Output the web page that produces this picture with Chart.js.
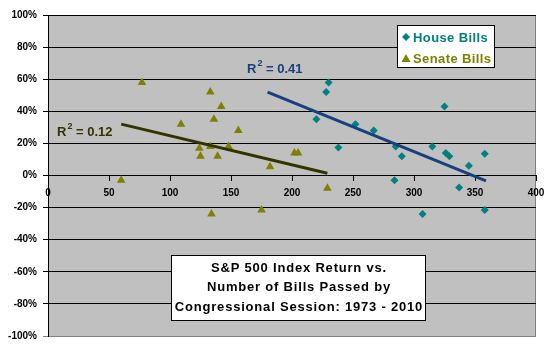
<!DOCTYPE html>
<html>
<head>
<meta charset="utf-8">
<script src="https://cdn.jsdelivr.net/npm/chart.js@4/dist/chart.umd.min.js"></script>
<style>
  html, body { margin: 0; padding: 0; background: #fff; }
  #wrap { width: 550px; height: 350px; position: relative; }
</style>
</head>
<body>
<div id="wrap"><canvas id="billsChart"></canvas></div>
<script>
// Number of bills passed per congressional session vs S&P 500 return (%)
const houseBills   = [230, 228, 220, 238, 252, 267, 285, 290, 284, 315, 325, 326, 329, 345, 358, 337, 307, 358];
const houseReturn  = [58, 52, 35, 17.5, 32, 28, 18, 12, -3, 18, 43, 14, 12, 6, 13.5, -7.5, -24, -21.5];
const senateBills  = [60, 77, 109, 133, 142, 136, 156, 124, 133, 125, 139, 148, 182, 202, 205, 229, 134, 175];
const senateReturn = [-3, 58, 32, 52, 43, 35, 28, 17, 18, 12, 12, 18, 5.5, 14, 14, -8, -24, -21.5];

// trend line end points
const houseTrendX  = [180, 359];
const houseTrendY  = [52, -3.4];
const senateTrendX = [60, 229];
const senateTrendY = [32, 1.4];

const xTicks = [0, 50, 100, 150, 200, 250, 300, 350, 400];
const titleLines = ['S&P 500 Index Return vs.', 'Number of Bills Passed by', 'Congressional Session: 1973 - 2010'];

const TEAL = '#008080';
const OLIVE = '#808000';
const NAVY = '#17407d';
const DARK_OLIVE = '#333300';

function toPoints(xs, ys) {
    return xs.map((x, i) => ({ x: x, y: ys[i] }));
}

// keep the label overhang from shrinking the plot area
function noPadding(scale) {
    scale.paddingLeft = 0;
    scale.paddingRight = 0;
    scale.paddingTop = 0;
    scale.paddingBottom = 0;
}

// grey plot area + frame
const plotBackground = {
    id: 'plotBackground',
    beforeDraw(chart) {
        const { ctx, chartArea: a } = chart;
        ctx.save();
        ctx.fillStyle = '#c0c0c0';
        ctx.fillRect(a.left, a.top, a.right - a.left, a.bottom - a.top);
        ctx.strokeStyle = '#808080';
        ctx.lineWidth = 1;
        ctx.strokeRect(a.left + 0.5, a.top + 0.5, a.right - a.left - 1, a.bottom - a.top);
        ctx.restore();
    }
};

function drawR2(ctx, x, y, value, color) {
    ctx.fillStyle = color;
    ctx.textBaseline = 'middle';
    ctx.textAlign = 'left';
    ctx.font = 'bold 13px Arial';
    ctx.fillText('R', x, y);
    let w = ctx.measureText('R').width;
    ctx.font = 'bold 9px Arial';
    ctx.fillText('2', x + w + 1, y - 5);
    w += ctx.measureText('2').width + 1;
    ctx.font = 'bold 13px Arial';
    ctx.fillText(' = ' + value, x + w, y);
}

// legend box, R² labels and title box inside the plot
const annotations = {
    id: 'annotations',
    afterDraw(chart) {
        const ctx = chart.ctx;
        ctx.save();

        // legend
        ctx.fillStyle = '#fff';
        ctx.fillRect(397, 25, 97, 42);
        ctx.strokeStyle = '#000';
        ctx.lineWidth = 1;
        ctx.strokeRect(397.5, 25.5, 97, 42);
        ctx.font = 'bold 13px Arial';
        ctx.letterSpacing = '0.4px';
        ctx.textBaseline = 'middle';
        ctx.textAlign = 'left';
        const rows = chart.data.datasets.filter(d => d.inLegend);
        rows.forEach((d, i) => {
            const y = 37 + i * 21;
            ctx.fillStyle = d.backgroundColor;
            ctx.beginPath();
            if (d.pointStyle === 'rectRot') {
                ctx.moveTo(406, y - 4); ctx.lineTo(410, y); ctx.lineTo(406, y + 4); ctx.lineTo(402, y);
            } else {
                ctx.moveTo(406, y - 4); ctx.lineTo(410.5, y + 4); ctx.lineTo(401.5, y + 4);
            }
            ctx.closePath();
            ctx.fill();
            ctx.fillText(d.label, 413, y + 1);
        });
        ctx.letterSpacing = '0px';

        drawR2(ctx, 247, 69, '0.41', NAVY);
        drawR2(ctx, 57, 132, '0.12', DARK_OLIVE);

        // title box
        ctx.fillStyle = '#fff';
        ctx.fillRect(171, 255, 254, 65);
        ctx.strokeStyle = '#000';
        ctx.strokeRect(171.5, 255.5, 254, 65);
        ctx.fillStyle = '#000';
        ctx.font = 'bold 13px Arial';
        ctx.letterSpacing = '0.8px';
        ctx.textAlign = 'center';
        titleLines.forEach((t, i) => ctx.fillText(t, 299, 268 + i * 19.5));
        ctx.restore();
    }
};

const ctxBills = document.getElementById('billsChart').getContext('2d');
const billsChart = new Chart(ctxBills, {
    type: 'scatter',
    data: {
        datasets: [
            {
                label: 'House Trend',
                data: toPoints(houseTrendX, houseTrendY),
                showLine: true,
                borderColor: NAVY,
                borderWidth: 3,
                pointRadius: 0
            },
            {
                label: 'Senate Trend',
                data: toPoints(senateTrendX, senateTrendY),
                showLine: true,
                borderColor: DARK_OLIVE,
                borderWidth: 3,
                pointRadius: 0
            },
            {
                label: 'House Bills',
                inLegend: true,
                data: toPoints(houseBills, houseReturn),
                pointStyle: 'rectRot',
                pointRadius: 4,
                backgroundColor: TEAL,
                borderColor: TEAL,
                borderWidth: 0
            },
            {
                label: 'Senate Bills',
                inLegend: true,
                data: toPoints(senateBills, senateReturn),
                pointStyle: 'triangle',
                pointRadius: 5,
                backgroundColor: OLIVE,
                borderColor: OLIVE,
                borderWidth: 0
            }
        ]
    },
    options: {
        responsive: true,
        maintainAspectRatio: false,
        animation: false,
        layout: { padding: { top: 15, right: 14, bottom: 14, left: 0 } },
        scales: {
            x: {
                type: 'linear',
                position: { y: 0 },
                min: 0,
                max: 400,
                afterBuildTicks: (scale) => { scale.ticks = xTicks.map(v => ({ value: v })); },
                afterFit: noPadding,
                grid: { drawOnChartArea: false, drawTicks: true, tickLength: 5, color: '#000' },
                border: { color: '#000', width: 1 },
                ticks: {
                    color: '#000',
                    padding: 7,
                    maxRotation: 0,
                    autoSkip: false,
                    font: { family: 'Arial', size: 10, weight: 'bold' }
                }
            },
            y: {
                min: -100,
                max: 100,
                afterFit: (scale) => { scale.width = 48; noPadding(scale); },
                grid: {
                    drawTicks: true,
                    tickLength: 5,
                    color: (c) => (c.tick && c.tick.value === -100 ? '#808080' : '#000'),
                    lineWidth: 1
                },
                border: { color: '#000', width: 1 },
                ticks: {
                    stepSize: 20,
                    color: '#000',
                    padding: 6,
                    font: { family: 'Arial', size: 10, weight: 'bold' },
                    callback: function(value) { return value + '%'; }
                }
            }
        },
        plugins: {
            legend: { display: false },
            tooltip: { enabled: false }
        }
    },
    plugins: [plotBackground, annotations]
});
</script>
</body>
</html>
